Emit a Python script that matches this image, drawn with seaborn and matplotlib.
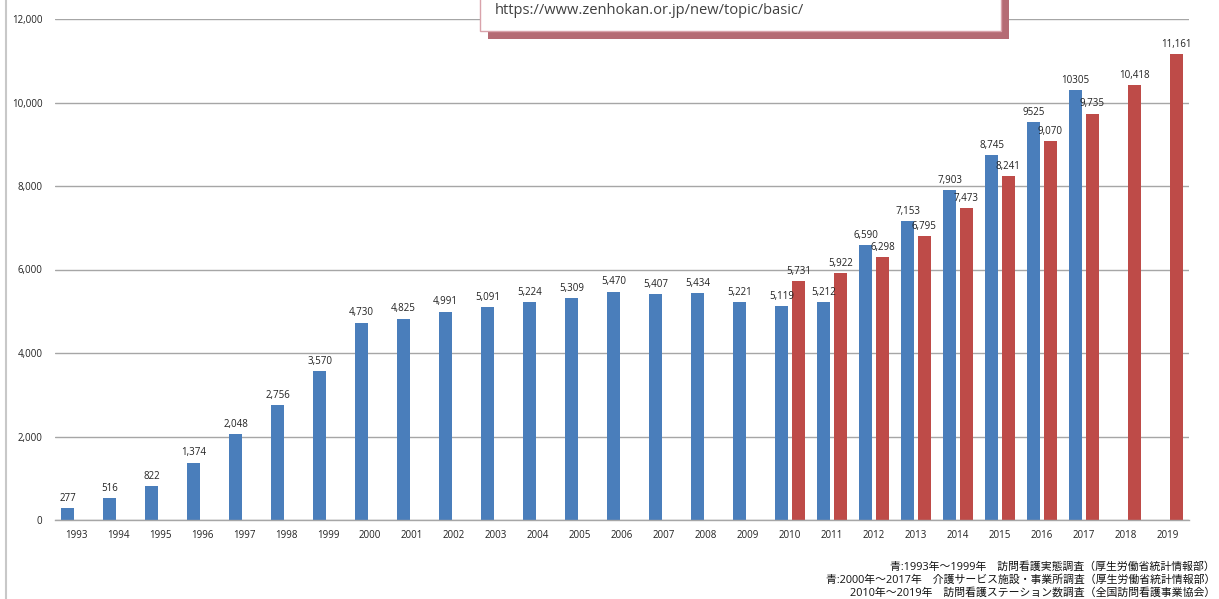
import numpy as np
import pandas as pd
import matplotlib
matplotlib.use("Agg")
import matplotlib.pyplot as plt
from matplotlib.patches import Rectangle
from matplotlib.lines import Line2D
import seaborn as sns

# data
years = [str(y) for y in range(1993, 2020)]
blue_vals = [277, 516, 822, 1374, 2048, 2756, 3570, 4730, 4825, 4991, 5091, 5224,
             5309, 5470, 5407, 5434, 5221, 5119, 5212, 6590, 7153, 7903, 8745,
             9525, 10305, None, None]
blue_labels = ["277", "516", "822", "1,374", "2,048", "2,756", "3,570", "4,730",
               "4,825", "4,991", "5,091", "5,224", "5,309", "5,470", "5,407",
               "5,434", "5,221", "5,119", "5,212", "6,590", "7,153", "7,903",
               "8,745", "9525", "10305", "", ""]
red_vals = [None] * 17 + [5731, 5922, 6298, 6795, 7473, 8241, 9070, 9735, 10418, 11161]
red_labels = [""] * 17 + ["5,731", "5,922", "6,298", "6,795", "7,473", "8,241",
                          "9,070", "9,735", "10,418", "11,161"]
yticks = [0, 2000, 4000, 6000, 8000, 10000, 12000]
url_text = "https://www.zenhokan.or.jp/new/topic/basic/"
notes = ["青:1993年～1999年　訪問看護実態調査（厚生労働省統計情報部）",
         "青:2000年～2017年　介護サービス施設・事業所調査（厚生労働省統計情報部）",
         "2010年～2019年　訪問看護ステーション数調査（全国訪問看護事業協会）"]

rows = []
for y, b, r in zip(years, blue_vals, red_vals):
    if b is not None:
        rows.append((y, b, "blue"))
    if r is not None:
        rows.append((y, r, "red"))
df = pd.DataFrame(rows, columns=["year", "value", "series"])

sns.set_style("white")
plt.rcParams["font.family"] = ["Open Sans", "Noto Sans CJK JP", "DejaVu Sans"]

W, H = 1219, 599
fig = plt.figure(figsize=(W / 100, H / 100), dpi=100)
ax = fig.add_axes([55 / W, 1 - 520 / H, (1189 - 55) / W, (520 - 19) / H])

colors = {"blue": "#4a7ebb", "red": "#be4b48"}
sns.barplot(data=df, x="year", y="value", hue="series", order=years,
            hue_order=["blue", "red"], palette=colors, saturation=1,
            errorbar=None, width=0.8, gap=0.18, linewidth=0, legend=False, ax=ax)

label_map = {"blue": blue_labels, "red": red_labels}
for cont, key in zip(ax.containers, ["blue", "red"]):
    for bar in cont:
        if np.isnan(bar.get_height()):
            continue
        i = int(round(bar.get_x() + bar.get_width() / 2))
        txt = label_map[key][i]
        ax.annotate(txt, (bar.get_x() + bar.get_width() / 2, bar.get_height()),
                    xytext=(0, 3), textcoords="offset points",
                    ha="center", va="bottom", fontsize=7, color="#222222")

ax.set_xlim(-0.5, len(years) - 0.5)
ax.set_ylim(0, 12000)
ax.set_yticks(yticks)
ax.set_yticklabels([f"{v:,}" for v in yticks])
ax.yaxis.grid(True, color="#a6a6a6", linewidth=1)
ax.set_axisbelow(True)
ax.tick_params(axis="y", length=0, pad=9, labelsize=7, labelcolor="#222222")
ax.tick_params(axis="x", length=0, pad=7, labelsize=7, labelcolor="#222222")
ax.set_xlabel("")
ax.set_ylabel("")
for s in ["left", "right", "top"]:
    ax.spines[s].set_visible(False)
ax.spines["bottom"].set_color("#a6a6a6")
ax.spines["bottom"].set_linewidth(1)


def fx(x):
    return x / W


def fy(y):
    return 1 - y / H


# left border line
fig.lines.append(Line2D([fx(6), fx(6)], [0, 1], transform=fig.transFigure,
                        color="#c8c8c8", linewidth=1.5))

# source box with shadow at the top
fig.patches.append(Rectangle((fx(488), fy(39)), fx(1009 - 488), fy(-10) - fy(39),
                             transform=fig.transFigure, facecolor="#b56b74",
                             edgecolor="none", zorder=5))
fig.patches.append(Rectangle((fx(480), fy(31)), fx(1001 - 480), fy(-10) - fy(31),
                             transform=fig.transFigure, facecolor="white",
                             edgecolor="#d9a3ab", linewidth=1, zorder=6))
fig.text(fx(495), fy(11), url_text, fontsize=10.5, color="#404040",
         family=["Open Sans", "DejaVu Sans"], ha="left", va="center", zorder=7)

for k, line in enumerate(notes):
    fig.text(fx(1215), fy(567 + 13 * k), line, fontsize=7.8, color="#111111",
             ha="right", va="center")

fig.savefig("out.png", dpi=100)
